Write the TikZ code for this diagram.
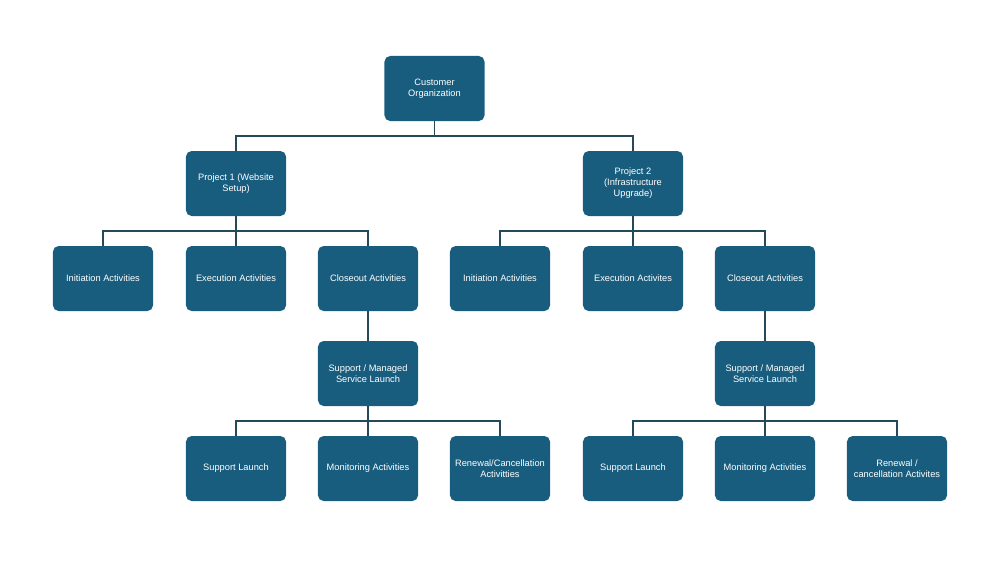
\documentclass[tikz,border=0pt]{standalone}
\usepackage{fontspec}
\setmainfont{Liberation Sans}
\definecolor{boxblue}{RGB}{24,93,126}
\definecolor{linkblue}{RGB}{36,74,90}
\tikzset{
  orgbox/.style={draw=none, fill=boxblue, rounded corners=4pt,
    minimum width=2.5cm, minimum height=1.625cm, align=center,
    text=white, font=\fontsize{6.6}{7.8}\selectfont},
  link/.style={draw=linkblue, line width=1.3pt}
}
\begin{document}
\begin{tikzpicture}[x=0.025cm, y=-0.025cm]
    \useasboundingbox (0,0) rectangle (999,562);

    % top
    \node[orgbox] (cust) at (434.5,88.5) {Customer\\Organization};

    % projects
    \node[orgbox] (p1) at (236,183.5) {Project 1 (Website\\Setup)};
    \node[orgbox] (p2) at (633,183.5) {Project 2\\(Infrastructure\\Upgrade)};

    % project 1 phases
    \node[orgbox] (p1init) at (103,278.5) {Initiation Activities};
    \node[orgbox] (p1exec) at (236,278.5) {Execution Activities};
    \node[orgbox] (p1close) at (368,278.5) {Closeout Activities};

    % project 2 phases
    \node[orgbox] (p2init) at (500,278.5) {Initiation Activities};
    \node[orgbox] (p2exec) at (633,278.5) {Execution Activites};
    \node[orgbox] (p2close) at (765,278.5) {Closeout Activities};

    % support launch
    \node[orgbox] (p1supp) at (368,373.5) {Support / Managed\\Service Launch};
    \node[orgbox] (p2supp) at (765,373.5) {Support / Managed\\Service Launch};

    % project 1 support activities
    \node[orgbox] (p1launch) at (236,468.5) {Support Launch};
    \node[orgbox] (p1mon) at (368,468.5) {Monitoring Activities};
    \node[orgbox] (p1renew) at (500,468.5) {Renewal/Cancellation\\Activitties};

    % project 2 support activities
    \node[orgbox] (p2launch) at (633,468.5) {Support Launch};
    \node[orgbox] (p2mon) at (765,468.5) {Monitoring Activities};
    \node[orgbox] (p2renew) at (897,468.5) {Renewal /\\cancellation Activites};

    % connectors
    \draw[link] (cust.south) -- ++(0,15) -| (p1.north);
    \draw[link] (cust.south) -- ++(0,15) -| (p2.north);

    \draw[link] (p1.south) -- ++(0,15) -| (p1init.north);
    \draw[link] (p1.south) -- (p1exec.north);
    \draw[link] (p1.south) -- ++(0,15) -| (p1close.north);

    \draw[link] (p2.south) -- ++(0,15) -| (p2init.north);
    \draw[link] (p2.south) -- (p2exec.north);
    \draw[link] (p2.south) -- ++(0,15) -| (p2close.north);

    \draw[link] (p1close.south) -- (p1supp.north);
    \draw[link] (p2close.south) -- (p2supp.north);

    \draw[link] (p1supp.south) -- ++(0,15) -| (p1launch.north);
    \draw[link] (p1supp.south) -- (p1mon.north);
    \draw[link] (p1supp.south) -- ++(0,15) -| (p1renew.north);

    \draw[link] (p2supp.south) -- ++(0,15) -| (p2launch.north);
    \draw[link] (p2supp.south) -- (p2mon.north);
    \draw[link] (p2supp.south) -- ++(0,15) -| (p2renew.north);
\end{tikzpicture}
\end{document}
